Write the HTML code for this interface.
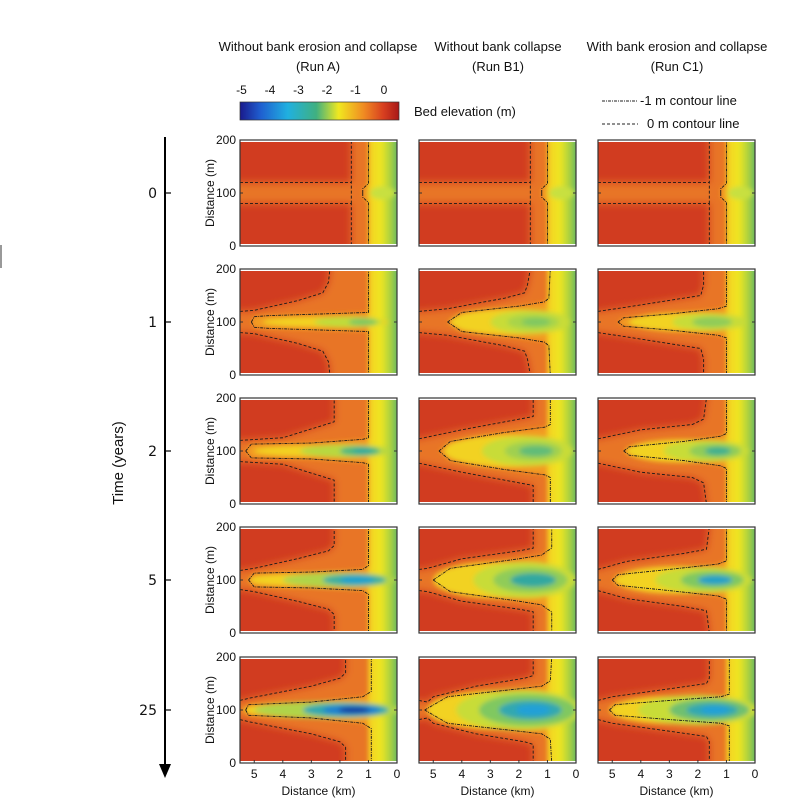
<!DOCTYPE html>
<html><head><meta charset="utf-8"><style>
body{margin:0;background:#fff;}
svg{display:block;font-family:"Liberation Sans",sans-serif;}
</style></head><body>
<svg id="s" width="799" height="812" viewBox="0 0 799 812" xmlns="http://www.w3.org/2000/svg">
<defs>
<filter id="bl" x="-10%" y="-10%" width="120%" height="120%"><feGaussianBlur stdDeviation="2.5"/></filter>
<filter id="bl2" x="-10%" y="-10%" width="120%" height="120%"><feGaussianBlur stdDeviation="4"/></filter>
<linearGradient id="jet" x1="0" x2="1" y1="0" y2="0">
<stop offset="0" stop-color="#1a1a8c"/><stop offset="0.13" stop-color="#1f5fd0"/><stop offset="0.3" stop-color="#20b0e0"/>
<stop offset="0.48" stop-color="#40b080"/><stop offset="0.62" stop-color="#f0e820"/><stop offset="0.78" stop-color="#f08a22"/>
<stop offset="0.9" stop-color="#d84020"/><stop offset="1" stop-color="#a81818"/></linearGradient>
<linearGradient id="rg" x1="0" x2="1" y1="0" y2="0">
<stop offset="0" stop-color="#f4d020"/><stop offset="0.35" stop-color="#f0e620"/><stop offset="0.65" stop-color="#a8d040"/><stop offset="1" stop-color="#2fa47c"/></linearGradient>
</defs>
<g id="root"></g>
<line x1="1" y1="245" x2="1" y2="268" stroke="#999" stroke-width="2"/>
<g font-size="13" text-anchor="middle" fill="#111">
<text x="318" y="51">Without bank erosion and collapse</text><text x="318" y="71">(Run A)</text>
<text x="498" y="51">Without bank collapse</text><text x="498" y="71">(Run B1)</text>
<text x="677" y="51">With bank erosion and collapse</text><text x="677" y="71">(Run C1)</text>
</g>
<rect x="240" y="102" width="159" height="18" fill="url(#jet)" stroke="#333" stroke-width="0.7"/>
<g font-size="12" text-anchor="middle" fill="#111">
<text x="241.5" y="94">-5</text><text x="270" y="94">-4</text><text x="298.5" y="94">-3</text><text x="327" y="94">-2</text><text x="355.5" y="94">-1</text><text x="384" y="94">0</text>
</g>
<text x="414" y="116" font-size="13" fill="#111">Bed elevation (m)</text>
<line x1="602" y1="101" x2="638" y2="101" stroke="#222" stroke-width="0.9" stroke-dasharray="3,1,1,1"/>
<text x="640" y="105" font-size="13" fill="#111">-1 m contour line</text>
<line x1="602" y1="124" x2="638" y2="124" stroke="#222" stroke-width="0.9" stroke-dasharray="3,2"/>
<text x="647" y="128" font-size="13" fill="#111">0 m contour line</text>
<line x1="165" y1="137" x2="165" y2="766" stroke="#000" stroke-width="2"/>
<polygon points="159,764 171,764 165,778" fill="#000"/>
<g font-family="DejaVu Sans,sans-serif" font-size="14" text-anchor="end" fill="#111">
<text x="157" y="198">0</text><text x="157" y="327">1</text><text x="157" y="456">2</text><text x="157" y="585">5</text><text x="157" y="715">25</text>
</g>
<g stroke="#000" stroke-width="1.2"><line x1="165" y1="193" x2="171" y2="193"/><line x1="165" y1="322" x2="171" y2="322"/><line x1="165" y1="451" x2="171" y2="451"/><line x1="165" y1="580" x2="171" y2="580"/><line x1="165" y1="710" x2="171" y2="710"/></g>
<text transform="translate(123,463) rotate(-90)" font-size="15" text-anchor="middle" fill="#111">Time (years)</text>
</svg>
<script>
(function(){
var NS="http://www.w3.org/2000/svg",root=document.getElementById('root'),defs=document.querySelector('defs');
function el(t,a,p){var e=document.createElementNS(NS,t);for(var k in a)e.setAttribute(k,a[k]);(p||root).appendChild(e);return e;}
var cols=[240,419,598],rows=[140,269,398,527,657];
var W=157,H=106,Y1='#f2d222';
var R=[
[{d:[[5.5,120],[1.6,120],[1.6,200]],v:1,c:[[1.2,100],[1.2,108],[1.0,118],[1.0,200]],k:[[0.5,0.45,12,'#c8e040']]}],
[{d:[[5.5,120],[5.0,122],[3.5,140],[2.6,155],[2.4,175],[2.35,200]],c:[[5.1,100],[5.0,110],[4.5,112],[1.0,118],[1.0,200]],k:[[2.5,2.2,9,Y1],[1.7,1.2,10,'#c0dc3a'],[1.2,0.5,7,'#80c860']]},
 {d:[[5.5,120],[4.5,125],[2.5,145],[1.8,155],[1.7,170],[1.6,200]],c:[[4.5,100],[4.0,118],[2,130],[1.1,138],[0.95,145],[0.9,200]],k:[[2.4,2.0,24,Y1],[1.6,1.4,22,'#c8dc38'],[1.5,0.9,14,'#a8d448'],[1.4,0.5,8,'#80c860']]},
 {d:[[5.5,120],[4.5,128],[2.5,145],[1.9,150],[1.8,170],[1.8,200]],c:[[4.8,100],[4.6,108],[3,115],[1.3,125],[1,130],[1,200]],k:[[2.4,2.0,18,Y1],[1.6,1.3,16,'#c8dc38'],[1.5,0.7,10,'#90cc58']]}],
[{d:[[5.5,120],[4,125],[2.8,145],[2.2,155],[2.2,200]],c:[[5.3,100],[5.1,113],[3,115],[1.2,122],[1,125],[1,200]],k:[[2.8,2.2,10,Y1],[1.8,1.6,12,'#b8d840'],[1.3,0.7,9,'#50b880'],[1.2,0.35,5,'#30a8a0']]},
 {d:[[5.5,123],[4,140],[2,160],[1.5,165],[1.5,200]],c:[[4.8,100],[4.4,118],[2.5,135],[1.1,145],[0.9,150],[0.9,200]],k:[[2.5,2.1,30,Y1],[1.7,1.6,28,'#c8dc38'],[1.5,1.0,18,'#a0d050'],[1.4,0.6,10,'#60bc78']]},
 {d:[[5.5,123],[4,140],[2.2,150],[1.8,160],[1.7,200]],c:[[4.6,100],[4.4,108],[2.5,118],[1.2,128],[1.0,133],[1.0,200]],k:[[2.5,2.0,22,Y1],[1.7,1.5,20,'#c8dc38'],[1.4,0.9,14,'#90cc58'],[1.3,0.45,8,'#40b090']]}],
[{d:[[5.5,118],[5,122],[3.5,140],[2.4,155],[2.2,165],[2.2,200]],c:[[5.2,100],[5.0,113],[3,115],[1.2,120],[1.0,127],[1.0,200]],k:[[3.0,2.2,12,Y1],[2.0,2.0,14,'#b0d448'],[1.5,1.1,11,'#40b0a0'],[1.4,0.6,7,'#20a0d0']]},
 {d:[[5.5,120],[5.2,122],[4,140],[2,155],[1.5,160],[1.5,200]],c:[[5.0,100],[4.4,122],[2,140],[1.2,147],[1.0,155],[0.85,160],[0.85,200]],k:[[2.7,2.3,34,Y1],[1.8,1.8,34,'#c8dc38'],[1.6,1.3,24,'#90cc58'],[1.5,0.8,13,'#30a8a0']]},
 {d:[[5.5,120],[4.5,135],[2.5,150],[1.7,158],[1.6,200]],c:[[5.0,100],[4.8,110],[3,120],[1.3,130],[1.0,136],[1.0,200]],k:[[2.7,2.2,26,Y1],[1.8,1.7,24,'#c8dc38'],[1.5,1.1,17,'#80c860'],[1.4,0.6,9,'#20a0c8']]}],
[{d:[[5.5,118],[5.2,122],[3,145],[2,160],[1.8,170],[1.8,200]],c:[[5.3,100],[5.2,110],[3,115],[1.2,125],[0.9,135],[0.9,200]],k:[[3.0,2.4,15,Y1],[2.4,2.6,16,'#b0d448'],[1.8,1.5,13,'#30a8b0'],[1.6,1.0,9,'#2080d0'],[1.5,0.55,6,'#1a40a0']]},
 {d:[[5.5,118],[5.2,115],[5,125],[3.5,145],[1.8,160],[1.5,165],[1.5,200]],c:[[5.3,100],[4.5,125],[2,140],[1.2,145],[0.9,155],[0.85,200]],k:[[2.8,2.4,36,Y1],[2.0,2.2,38,'#c8dc38'],[1.7,1.7,30,'#80c860'],[1.6,1.1,18,'#30a8b0'],[1.5,0.6,10,'#20a0d8']]},
 {d:[[5.5,118],[5.0,125],[3,140],[1.7,150],[1.6,160],[1.6,200]],c:[[5.1,100],[4.9,110],[3,118],[1.2,125],[0.9,130],[0.9,200]],k:[[2.8,2.3,26,Y1],[2.0,2.1,28,'#c8dc38'],[1.6,1.4,21,'#70c070'],[1.5,0.9,13,'#30a8b0'],[1.4,0.5,8,'#20a0d8']]}]
];
for(var r=0;r<5;r++)for(var c=0;c<3;c++){
 var p=R[r][r==0?0:c],x0=cols[c],y0=rows[r];
 var X=function(km){return x0+W-km*28.55;},Y=function(m){return y0+H-m*0.53;};
 var id='cp'+r+'_'+c;var cp=el('clipPath',{id:id},defs);el('rect',{x:x0,y:y0+2,width:W,height:H-4},cp);
 var g=el('g',{'clip-path':'url(#'+id+')'});
 el('rect',{x:x0,y:y0,width:W,height:H,fill:'#d13c20'},g);
 function q0(t){return t[t.length-1][0];}
 function poly(P,ext){var top=P.slice();if(ext)top.unshift([6.2,P[0][1]]);
  var pts=top.map(function(q){return X(q[0])+','+Y(q[1]);});
  pts.push(X(q0(top))+','+Y(215));pts.push(X(-0.5)+','+Y(215));pts.push(X(-0.5)+','+Y(-15));pts.push(X(q0(top))+','+Y(-15));
  for(var i=top.length-1;i>=0;i--)pts.push(X(top[i][0])+','+Y(200-top[i][1]));return pts.join(' ');}
 var fg2=el('g',{filter:'url(#bl2)'},g);
 el('polygon',{points:poly(p.d,true),fill:'#e87426'},fg2);
 var fg=el('g',{filter:'url(#bl)'},g);
 el('polygon',{points:poly(p.c,false),fill:'#f29c22'},fg);
 el('rect',{x:X(1.0),y:y0-5,width:1.0*28.55+6,height:H+10,fill:'url(#rg)'},fg);
 p.k.forEach(function(k){el('ellipse',{cx:X(k[0]),cy:Y(100),rx:k[1]*28.55,ry:k[2]*0.53,fill:k[3]},fg);});
 function line(P,da){var a=P.map(function(q){return X(q[0])+','+Y(q[1]);}),b=P.map(function(q){return X(q[0])+','+Y(200-q[1]);});
  el('polyline',{points:a.join(' '),fill:'none',stroke:'#1a1a1a','stroke-width':0.9,'stroke-dasharray':da},g);
  el('polyline',{points:b.join(' '),fill:'none',stroke:'#1a1a1a','stroke-width':0.9,'stroke-dasharray':da},g);}
 line(p.d,'3,2');line(p.c,'3,1,1,1');
 if(p.v)el('line',{x1:X(1.6),y1:Y(80),x2:X(1.6),y2:Y(120),stroke:'#1a1a1a','stroke-width':0.9,'stroke-dasharray':'3,2'},g);
 el('rect',{x:x0,y:y0,width:W,height:H,fill:'none',stroke:'#333','stroke-width':1.2});
 el('line',{x1:x0,y1:y0+53,x2:x0+3,y2:y0+53,stroke:'#333'});el('line',{x1:x0+W-3,y1:y0+53,x2:x0+W,y2:y0+53,stroke:'#333'});
 if(c==0){
  var t=[['200',y0+4],['100',y0+57],['0',y0+110]];
  t.forEach(function(q){var e=el('text',{x:x0-4,y:q[1],'font-size':12,'text-anchor':'end',fill:'#111'});e.textContent=q[0];});
  var e=el('text',{transform:'translate('+(x0-26)+','+(y0+53)+') rotate(-90)','font-size':12,'text-anchor':'middle',fill:'#111'});e.textContent='Distance (m)';
 }
 if(r==4){
  for(var k=0;k<=5;k++){var e=el('text',{x:X(k),y:y0+H+15,'font-size':12,'text-anchor':'middle',fill:'#111'});e.textContent=k;
   el('line',{x1:X(k),y1:y0+H,x2:X(k),y2:y0+H-3,stroke:'#333'});}
  var e=el('text',{x:x0+W/2,y:y0+H+32,'font-size':12,'text-anchor':'middle',fill:'#111'});e.textContent='Distance (km)';
 }
}
})();
</script>
</body></html>
